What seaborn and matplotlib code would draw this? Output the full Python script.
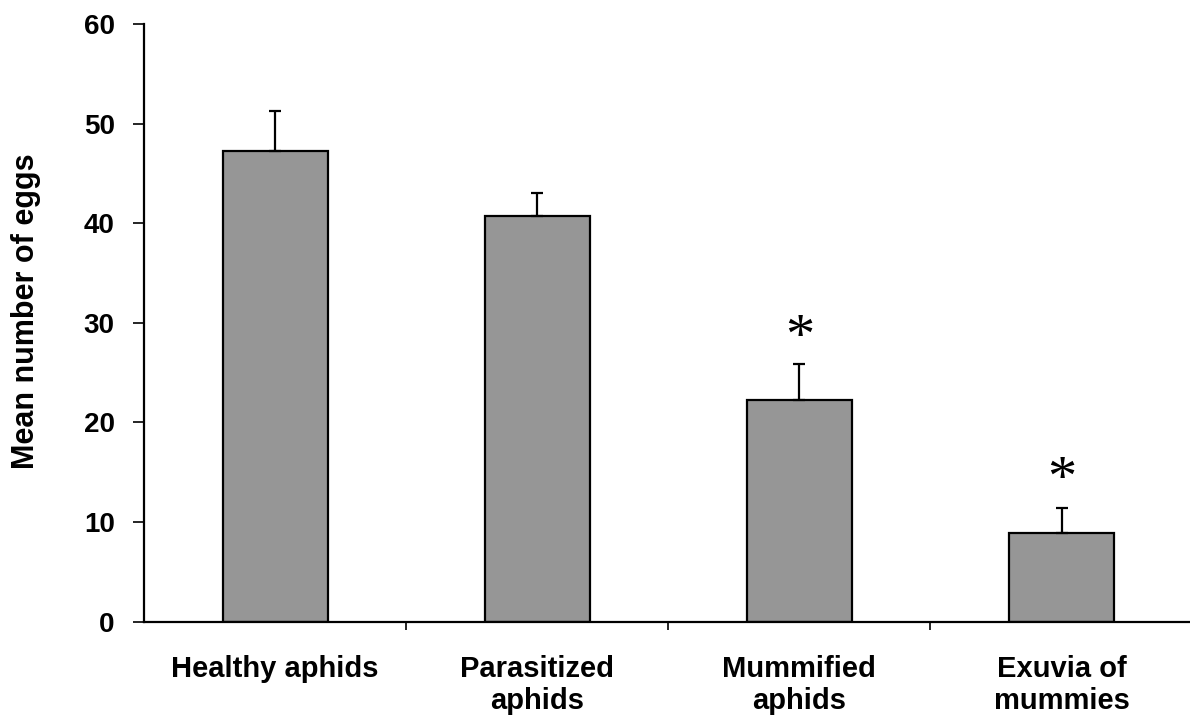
import matplotlib
matplotlib.use("Agg")
import matplotlib.pyplot as plt
import seaborn as sns
import pandas as pd
import numpy as np

categories = ["Healthy aphids", "Parasitized\naphids", "Mummified\naphids", "Exuvia of\nmummies"]
mean_eggs = [47.2, 40.7, 22.3, 8.9]
sem_eggs = [4.1, 2.3, 3.6, 2.5]
significant = [False, False, True, True]
star_y = [None, None, 28.4, 14.1]
y_ticks = [0, 10, 20, 30, 40, 50, 60]

sns.set_style("white")
plt.rcParams["font.family"] = ["Liberation Sans", "DejaVu Sans"]
plt.rcParams.update({"text.color": "black", "axes.labelcolor": "black",
                     "xtick.color": "black", "ytick.color": "black"})

df = pd.DataFrame({"group": categories, "eggs": mean_eggs})

fig = plt.figure(figsize=(11.9, 7.15), dpi=100)
ax = fig.add_axes([0.121, 0.1305, 0.879, 0.836])

sns.barplot(data=df, x="group", y="eggs", color="#969696", saturation=1,
            width=0.40, edgecolor="black", linewidth=1.6, errorbar=None, ax=ax)

x = np.arange(len(categories))
ax.errorbar(x, mean_eggs, yerr=[np.zeros(len(mean_eggs)), sem_eggs],
            fmt="none", ecolor="black", elinewidth=1.6, capsize=4.5, capthick=1.6,
            zorder=1)

for xi, sig, sy in zip(x, significant, star_y):
    if sig:
        ax.text(xi, sy, "*", ha="center", va="center", fontsize=42,
                family="Liberation Serif", color="black")

ax.set_ylim(0, 60)
ax.set_xlim(-0.5, 3.49)
ax.set_yticks(y_ticks)
ax.set_yticklabels([str(t) for t in y_ticks], fontsize=20, fontweight="bold")
ax.set_xticks(x)
ax.set_xticklabels(categories, fontsize=21, fontweight="bold", linespacing=1.2)
ax.tick_params(axis="x", which="major", length=0, pad=24)
ax.set_xticks([0.5, 1.5, 2.5], minor=True)
ax.tick_params(axis="x", which="minor", direction="out", length=6, width=1.2,
               bottom=True)
ax.tick_params(axis="y", direction="out", length=8, width=1.2, left=True, pad=13)

ax.set_xlabel("")
ax.set_ylabel("Mean number of eggs", fontsize=22, fontweight="bold")
ax.yaxis.set_label_coords(-0.098, 0.52)

for side in ["top", "right"]:
    ax.spines[side].set_visible(False)
for side in ["left", "bottom"]:
    ax.spines[side].set_color("black")
    ax.spines[side].set_linewidth(1.6)

fig.savefig("out.png", dpi=100)
